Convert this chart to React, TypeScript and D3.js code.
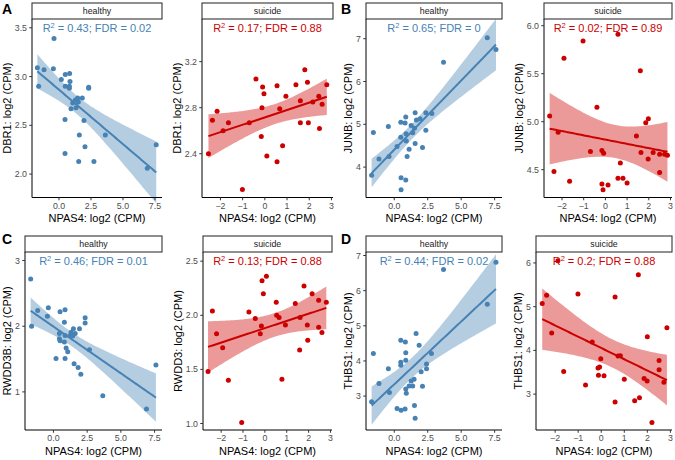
import React from "react";
import * as d3 from "d3";

type Pt = [number, number];

// ---------- data ----------
const dbr1Healthy: Pt[] = [
  [-1.69, 3.09], [-1.59, 2.9], [-1.17, 3.07], [-0.44, 3.08], [-0.39, 3.39], [0.18, 2.97],
  [0.49, 3.02], [0.49, 2.9], [0.47, 2.56], [0.47, 2.21], [0.83, 3.03], [0.86, 2.95],
  [0.81, 2.9], [0.81, 2.88], [0.94, 2.67], [1.07, 2.73], [1.33, 2.68], [1.28, 2.76],
  [1.46, 2.78], [1.51, 2.74], [1.82, 2.78], [1.59, 2.4], [1.54, 2.13], [1.95, 2.55],
  [2.03, 2.28], [2.32, 2.89], [2.32, 2.88], [2.73, 2.13], [3.62, 2.4], [6.9, 2.06], [7.6, 2.3],
];
const dbr1Suicide: Pt[] = [
  [-2.54, 2.4], [-2.36, 2.69], [-2.15, 2.77], [-1.88, 2.6], [-1.64, 2.67], [-1.01, 2.09],
  [-0.7, 2.67], [-0.4, 3.05], [-0.16, 2.55], [-0.13, 2.8], [-0.1, 2.98], [-0.04, 2.92],
  [0.09, 2.38], [0.55, 2.99], [0.55, 2.33], [0.67, 2.79], [0.8, 2.47], [0.95, 2.9],
  [1.4, 3.0], [1.6, 2.86], [1.6, 2.67], [1.8, 3.13], [1.92, 3.02], [1.96, 2.67],
  [2.16, 2.85], [2.43, 2.9], [2.46, 2.62], [2.58, 2.83], [2.79, 3.0],
];
const junbHealthy: Pt[] = [
  [-1.69, 3.81], [-1.56, 4.81], [-1.14, 4.19], [-0.44, 4.95], [-0.39, 4.25], [0.21, 4.48],
  [0.49, 5.05], [0.49, 4.7], [0.51, 3.75], [0.51, 3.47], [0.81, 5.03], [0.86, 5.17],
  [0.88, 4.78], [0.9, 4.61], [0.86, 3.7], [0.96, 4.25], [1.11, 4.42], [1.26, 4.97],
  [1.38, 4.8], [1.51, 4.91], [1.56, 5.27], [1.56, 4.55], [1.66, 5.1], [1.93, 5.13],
  [2.11, 4.46], [2.36, 5.27], [2.36, 4.86], [2.81, 5.25], [3.68, 6.45], [6.95, 7.02], [7.6, 6.75],
];
const junbSuicide: Pt[] = [
  [-2.57, 5.06], [-2.37, 4.48], [-2.18, 4.89], [-1.91, 5.66], [-1.65, 4.38], [-1.03, 5.84],
  [-0.69, 4.69], [-0.39, 5.15], [-0.16, 4.7], [-0.08, 4.67], [-0.16, 4.35], [-0.11, 4.29],
  [0.12, 4.34], [0.58, 5.91], [0.58, 4.41], [0.69, 4.57], [0.81, 4.41], [1.0, 4.36],
  [1.43, 4.85], [1.61, 5.53], [1.64, 4.68], [1.86, 4.99], [1.98, 5.03], [1.97, 4.61],
  [2.2, 4.68], [2.5, 4.66], [2.5, 4.47], [2.73, 4.66], [2.86, 4.65],
];
const rwdd3bHealthy: Pt[] = [
  [-1.69, 2.72], [-1.62, 2.0], [-1.17, 2.24], [-0.45, 2.15], [-0.38, 2.28], [0.19, 1.51],
  [0.49, 2.22], [0.44, 1.89], [0.44, 1.81], [0.49, 1.78], [0.86, 2.25], [0.81, 2.06],
  [0.86, 1.86], [0.81, 1.76], [0.86, 1.51], [0.94, 1.67], [1.06, 1.61], [1.24, 1.86],
  [1.31, 1.91], [1.43, 1.85], [1.48, 1.96], [1.53, 1.43], [1.61, 1.89], [1.83, 1.37],
  [1.93, 1.96], [2.03, 1.27], [2.35, 2.13], [2.35, 2.05], [2.67, 1.64], [3.66, 0.94],
  [6.9, 0.74], [7.6, 1.41],
];
const rwdd3Suicide: Pt[] = [
  [-2.6, 1.48], [-2.4, 2.04], [-2.21, 1.83], [-1.93, 1.7], [-1.67, 1.4], [-1.06, 1.01],
  [-0.73, 2.03], [-0.44, 1.97], [-0.21, 1.83], [-0.16, 1.9], [-0.13, 2.32], [-0.07, 2.2],
  [0.07, 2.36], [0.52, 2.12], [0.54, 2.0], [0.65, 1.98], [0.78, 1.41], [0.94, 1.91],
  [1.39, 2.11], [1.59, 1.68], [1.61, 1.98], [1.79, 2.27], [1.94, 1.91], [1.96, 1.77],
  [2.16, 2.2], [2.46, 2.14], [2.46, 1.89], [2.61, 1.84], [2.81, 2.12],
];
const thbs1Healthy: Pt[] = [
  [-1.69, 2.84], [-1.56, 4.21], [-1.14, 3.36], [-0.44, 3.78], [-0.36, 3.1], [0.21, 2.65],
  [0.49, 4.59], [0.49, 3.96], [0.49, 3.88], [0.51, 2.6], [0.83, 4.54], [0.86, 4.23],
  [0.86, 4.02], [0.86, 3.2], [0.9, 3.08], [0.81, 2.63], [1.11, 3.29], [1.26, 3.43],
  [1.38, 3.29], [1.48, 3.48], [1.51, 2.73], [1.56, 2.37], [1.63, 4.78], [1.86, 4.45],
  [2.01, 3.69], [2.11, 3.28], [2.41, 3.91], [2.41, 3.78], [2.78, 4.21], [3.68, 6.6],
  [6.95, 5.61], [7.6, 6.81],
];
const thbs1Suicide: Pt[] = [
  [-2.56, 5.07], [-2.37, 5.26], [-2.15, 4.4], [-1.88, 6.05], [-1.63, 3.52], [-1.01, 5.29],
  [-0.68, 3.21], [-0.39, 4.19], [-0.14, 3.6], [-0.07, 3.62], [-0.12, 3.43], [-0.02, 3.81],
  [0.12, 3.42], [0.6, 5.22], [0.6, 2.82], [0.73, 3.87], [0.83, 3.88], [1.0, 3.34],
  [1.45, 2.85], [1.61, 5.73], [1.66, 2.92], [1.86, 3.36], [1.99, 3.3], [2.0, 4.31],
  [2.2, 2.35], [2.51, 3.56], [2.51, 3.77], [2.72, 3.27], [2.85, 4.52],
];

const groups = ["healthy", "suicide"];
const xTitle = "NPAS4: log2 (CPM)";
const yTitles = [
  "DBR1: log2 (CPM)", "DBR1: log2 (CPM)", "JUNB: log2 (CPM)", "JUNB: log2 (CPM)",
  "RWDD3B: log2 (CPM)", "RWDD3: log2 (CPM)", "THBS1: log2 (CPM)", "THBS1: log2 (CPM)",
];
const r2Labels = ["0.43", "0.17", "0.65", "0.02", "0.46", "0.13", "0.44", "0.2"];
const fdrLabels = ["0.02", "0.88", "0", "0.89", "0.01", "0.88", "0.02", "0.88"];
const panelLetters = ["A", "B", "C", "D"];

const xTicksHealthy = [0, 2.5, 5, 7.5];
const xTicksSuicide = [-2, -1, 0, 1, 2, 3];
const yTicksList = [
  [2.0, 2.5, 3.0, 3.5], [2.4, 2.8, 3.2], [4, 5, 6, 7], [4.5, 5.0, 5.5, 6.0],
  [1, 2, 3], [1.0, 1.5, 2.0, 2.5], [3, 4, 5, 6, 7], [3, 4, 5, 6],
];
const yFormats = [".1f", ".1f", "d", ".1f", "d", ".1f", "d", "d"];
const pointSets = [
  dbr1Healthy, dbr1Suicide, junbHealthy, junbSuicide,
  rwdd3bHealthy, rwdd3Suicide, thbs1Healthy, thbs1Suicide,
];

// ---------- layout / style ----------
const W = 675, H = 460;
const FONT = "'Liberation Sans', Arial, Helvetica, sans-serif";
const COLORS = { healthy: "#4682B4", suicide: "#CD0000" };
const xDomains = { healthy: [-2.11, 8.05], suicide: [-2.83, 3.07] };
const yDomains = [
  [1.76, 3.59], [2.02, 3.57], [3.29, 7.46], [4.21, 6.07],
  [0.42, 3.13], [0.94, 2.585], [2.035, 7.1], [2.18, 6.25],
];
const panelLR = [
  [32, 162], [202, 333], [366, 502], [544, 672],
  [25, 162], [203, 332], [366, 502], [536, 672],
];
const rows = [
  { stripTop: 3, top: 19, bottom: 197.5 },
  { stripTop: 236, top: 252, bottom: 430 },
];
const letterX = [2, 341];

let ctx: CanvasRenderingContext2D | null = null;
function textWidth(s: string, size: number) {
  if (!ctx) ctx = document.createElement("canvas").getContext("2d");
  if (!ctx) return s.length * size * 0.55;
  ctx.font = `${size}px ${FONT}`;
  return ctx.measureText(s).width;
}

function tQuantile975(df: number) {
  const z = 1.959964;
  const g1 = (z ** 3 + z) / 4;
  const g2 = (5 * z ** 5 + 16 * z ** 3 + 3 * z) / 96;
  const g3 = (3 * z ** 7 + 19 * z ** 5 + 17 * z ** 3 - 15 * z) / 384;
  return z + g1 / df + g2 / df ** 2 + g3 / df ** 3;
}

function fitLm(pts: Pt[]) {
  const n = pts.length;
  const mx = d3.mean(pts, (p) => p[0]) as number;
  const my = d3.mean(pts, (p) => p[1]) as number;
  let sxx = 0, sxy = 0;
  for (const [x, y] of pts) { sxx += (x - mx) ** 2; sxy += (x - mx) * (y - my); }
  const b = sxy / sxx, a = my - b * mx;
  let sse = 0;
  for (const [x, y] of pts) sse += (y - a - b * x) ** 2;
  const s = Math.sqrt(sse / (n - 2));
  const t = tQuantile975(n - 2);
  const [x0, x1] = d3.extent(pts, (p) => p[0]) as [number, number];
  return d3.range(80).map((i) => {
    const x = x0 + ((x1 - x0) * i) / 79;
    const yh = a + b * x;
    const se = s * Math.sqrt(1 / n + (x - mx) ** 2 / sxx);
    return { x, y: yh, lo: yh - t * se, hi: yh + t * se };
  });
}

function Panel({ idx }: { idx: number }) {
  const group = groups[idx % 2] as "healthy" | "suicide";
  const row = rows[Math.floor(idx / 4)];
  const [left, right] = panelLR[idx];
  const color = COLORS[group];
  const x = d3.scaleLinear().domain(xDomains[group]).range([left, right]);
  const y = d3.scaleLinear().domain(yDomains[idx]).range([row.bottom, row.top]);
  const pts = pointSets[idx];
  const fit = fitLm(pts);
  const area = d3.area<any>().x((d) => x(d.x)).y0((d) => y(d.lo)).y1((d) => y(d.hi));
  const line = d3.line<any>().x((d) => x(d.x)).y((d) => y(d.y));
  const yFmt = d3.format(yFormats[idx]);
  const yTicks = yTicksList[idx];
  const yLabels = yTicks.map((v) => yFmt(v));
  const xTicks = group === "healthy" ? xTicksHealthy : xTicksSuicide;
  const xFmt = group === "healthy" ? d3.format(".1f") : d3.format("d");
  const maxW = Math.max(...yLabels.map((s) => textWidth(s, 8.8)));
  const yTitleX = left - 5 - maxW - 7.6;
  const cx = (left + right) / 2;
  const cy = (row.top + row.bottom) / 2;
  const rest = " = " + r2Labels[idx] + "; FDR = " + fdrLabels[idx];
  const rW = textWidth("R", 11);
  const twoW = textWidth("2", 7.5);
  const labW = rW + twoW + textWidth(rest, 11);
  const labX = cx - labW / 2;
  const labY = row.top + 13.3;
  return (
    <g>
      {/* strip */}
      <rect x={left} y={row.stripTop} width={right - left} height={row.top - row.stripTop}
        fill="#fff" stroke="#333" strokeWidth={1.1} />
      <text x={cx} y={(row.stripTop + row.top) / 2} dy="0.35em" textAnchor="middle"
        fontSize={8.8} fill="#1A1A1A">{group}</text>
      {/* points */}
      {pts.map((p, i) => (
        <circle key={i} cx={x(p[0])} cy={y(p[1])} r={2.5} fill={color} />
      ))}
      {/* smooth */}
      <path d={area(fit) || ""} fill={color} fillOpacity={0.4} stroke="none" />
      <path d={line(fit) || ""} fill="none" stroke={color} strokeWidth={2} />
      {/* annotation */}
      <g fill={color}>
        <text x={labX} y={labY} fontSize={11}>R</text>
        <text x={labX + rW} y={labY - 4.5} fontSize={7.5}>2</text>
        <text x={labX + rW + twoW} y={labY} fontSize={11} style={{ whiteSpace: "pre" }}>{rest}</text>
      </g>
      {/* axes */}
      <line x1={left} x2={left} y1={row.top} y2={row.bottom} stroke="#000" strokeWidth={1} />
      <line x1={left} x2={right} y1={row.bottom} y2={row.bottom} stroke="#000" strokeWidth={1} />
      {yTicks.map((v, i) => (
        <g key={"y" + i}>
          <line x1={left - 2.75} x2={left} y1={y(v)} y2={y(v)} stroke="#333" strokeWidth={1} />
          <text x={left - 5} y={y(v)} dy="0.35em" textAnchor="end" fontSize={8.8} fill="#4D4D4D">
            {yLabels[i]}
          </text>
        </g>
      ))}
      {xTicks.map((v, i) => (
        <g key={"x" + i}>
          <line x1={x(v)} x2={x(v)} y1={row.bottom} y2={row.bottom + 2.75} stroke="#333" strokeWidth={1} />
          <text x={x(v)} y={row.bottom + 11.3} textAnchor="middle" fontSize={8.8} fill="#4D4D4D">
            {xFmt(v)}
          </text>
        </g>
      ))}
      <text x={cx} y={row.bottom + 24.8} textAnchor="middle" fontSize={11} fill="#000">{xTitle}</text>
      <text transform={`translate(${yTitleX},${cy}) rotate(-90)`} dy="0.35em" textAnchor="middle"
        fontSize={11} fill="#000">{yTitles[idx]}</text>
    </g>
  );
}

export default function App() {
  return (
    <svg width={W} height={H} viewBox={`0 0 ${W} ${H}`}
      style={{ position: "absolute", left: 0, top: 0, background: "#fff", fontFamily: FONT }}>
      <rect x={0} y={0} width={W} height={H} fill="#fff" />
      {d3.range(8).map((i) => <Panel key={i} idx={i} />)}
      {panelLetters.map((L, i) => (
        <text key={L} x={letterX[i % 2]} y={i < 2 ? 13.5 : 243.5} fontSize={14} fontWeight="bold" fill="#000">
          {L}
        </text>
      ))}
    </svg>
  );
}
